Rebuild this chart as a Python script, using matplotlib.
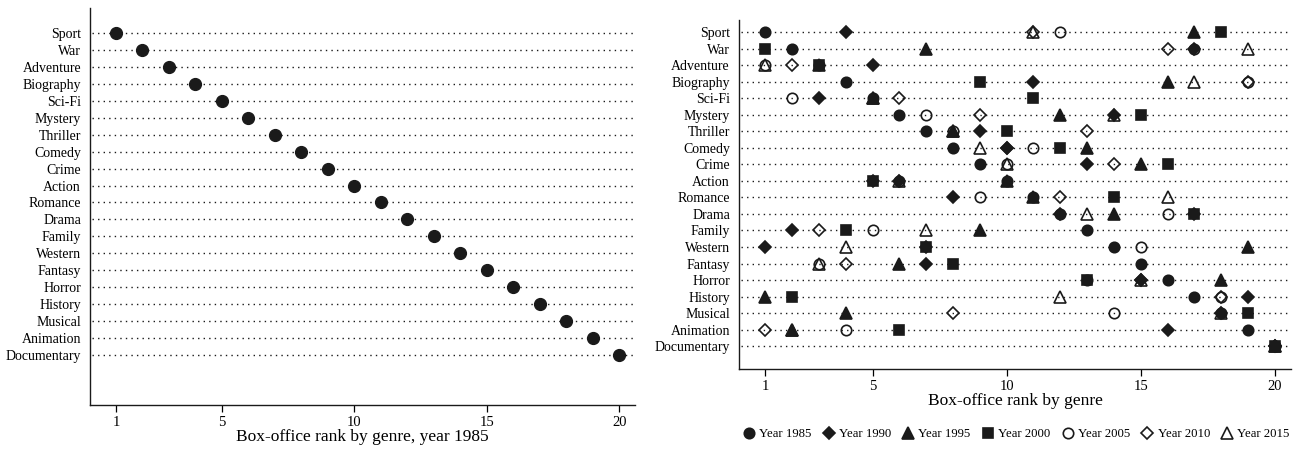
import matplotlib
matplotlib.use("Agg")
import matplotlib.pyplot as plt
from matplotlib.lines import Line2D

GENRES = ["Sport", "War", "Adventure", "Biography", "Sci-Fi", "Mystery",
          "Thriller", "Comedy", "Crime", "Action", "Romance", "Drama",
          "Family", "Western", "Fantasy", "Horror", "History", "Musical",
          "Animation", "Documentary"]

# box-office rank of each genre (same order as GENRES), one list per year
RANK_1985 = [1, 2, 3, 4, 5, 6, 7, 8, 9, 10, 11, 12, 13, 14, 15, 16, 17, 18, 19, 20]
RANK_1990 = [4, 17, 5, 11, 3, 14, 9, 10, 13, 6, 8, 12, 2, 1, 7, 15, 19, 18, 16, 20]
RANK_1995 = [17, 7, 3, 16, 5, 12, 8, 13, 15, 10, 11, 14, 9, 19, 6, 18, 1, 4, 2, 20]
RANK_2000 = [18, 1, 3, 9, 11, 15, 10, 12, 16, 5, 14, 17, 4, 7, 8, 13, 2, 19, 6, 20]
RANK_2005 = [12, 17, 1, 19, 2, 7, 8, 11, 10, 6, 9, 16, 5, 15, 3, 13, 18, 14, 4, 20]
RANK_2010 = [11, 16, 2, 19, 6, 9, 13, 10, 14, 5, 12, 17, 3, 7, 4, 15, 18, 8, 1, 20]
RANK_2015 = [11, 19, 1, 17, 5, 14, 8, 9, 10, 6, 16, 13, 7, 4, 3, 15, 12, 18, 2, 20]

YEARS = ["1985", "1990", "1995", "2000", "2005", "2010", "2015"]
RANKS = [RANK_1985, RANK_1990, RANK_1995, RANK_2000, RANK_2005, RANK_2010, RANK_2015]

XTICKS = [1, 5, 10, 15, 20]

INK = "#1a1a1a"
# marker, size, filled
STYLES = [("o", 7.5, True), ("D", 6.2, True), ("^", 8.0, True), ("s", 7.0, True),
          ("o", 7.5, False), ("D", 6.2, False), ("^", 8.0, False)]

plt.rcParams["font.family"] = ["Liberation Serif", "DejaVu Serif"]

fig = plt.figure(figsize=(13.01, 4.49), dpi=100)
ax1 = fig.add_axes([0.0692, 0.098, 0.419, 0.884])
ax2 = fig.add_axes([0.568, 0.178, 0.4243, 0.777])

ypos = list(range(len(GENRES)))


def _style(ax, xlabel, ylim):
    ax.set_xlim(0.02, 20.6)
    ax.set_ylim(*ylim)
    for y in ypos:
        ax.plot([0.1, 20.6], [y, y], color=INK, lw=1.0,
                linestyle=(0, (1, 3)), zorder=1)
    ax.set_yticks(ypos)
    ax.set_yticklabels(GENRES, fontsize=10)
    ax.tick_params(axis="y", length=0, pad=6.5)
    ax.set_xticks(XTICKS)
    ax.set_xticklabels([str(t) for t in XTICKS], fontsize=10.5)
    ax.tick_params(axis="x", length=5, width=0.9, direction="out", pad=3)
    ax.spines["top"].set_visible(False)
    ax.spines["right"].set_visible(False)
    for s in ("left", "bottom"):
        ax.spines[s].set_linewidth(1.0)
        ax.spines[s].set_color(INK)
    ax.set_xlabel(xlabel, fontsize=12.5, labelpad=0)


# left: single year dot plot
_style(ax1, "Box-office rank by genre, year 1985", (21.95, -1.47))
ax1.plot(RANK_1985, ypos, linestyle="none", marker="o", ms=8.5,
         color=INK, zorder=3)

# right: all years overlaid
_style(ax2, "Box-office rank by genre", (20.39, -0.73))
handles = []
for year, ranks, (mk, ms, filled) in zip(YEARS, RANKS, STYLES):
    kw = dict(linestyle="none", marker=mk, ms=ms, mec=INK, mew=1.2)
    kw["mfc"] = INK if filled else "none"
    ax2.plot(ranks, ypos, zorder=3 if filled else 4, **kw)
    handles.append(Line2D([], [], label=f"Year {year}", **kw))

fig.legend(handles=handles, loc="center", bbox_to_anchor=(0.781, 0.033),
           ncol=7, frameon=False, fontsize=9.2, handlelength=1.0,
           handletextpad=0.3, columnspacing=0.85, borderpad=0)

fig.savefig("out.png", dpi=100)
